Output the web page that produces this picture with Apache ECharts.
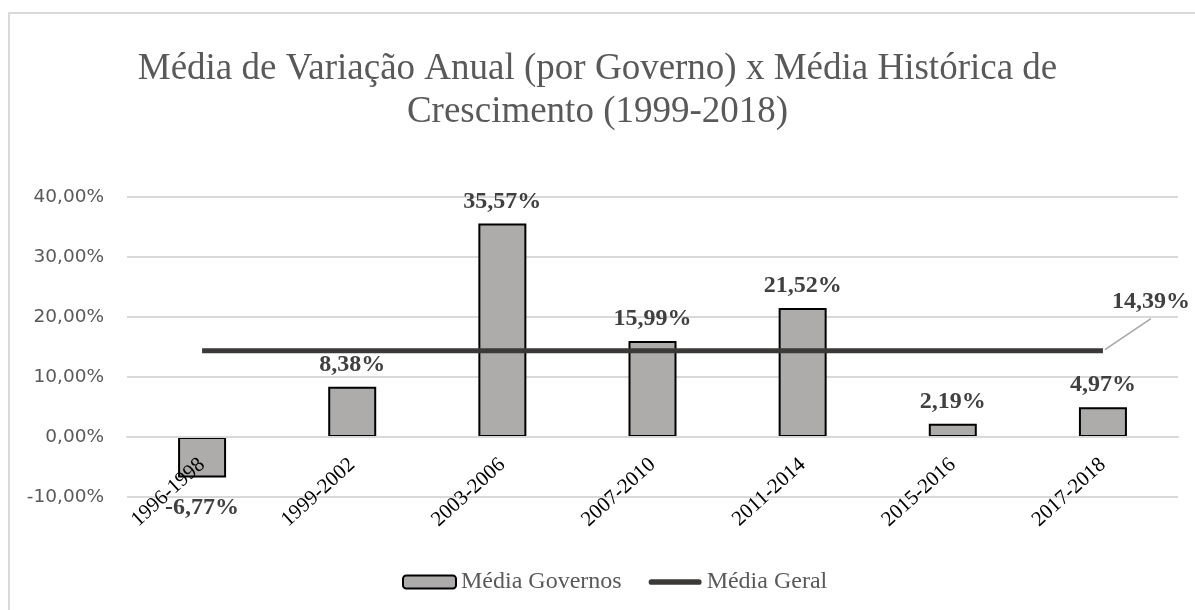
<!DOCTYPE html>
<html><head><meta charset="utf-8">
<script src="https://cdn.jsdelivr.net/npm/echarts@6/dist/echarts.min.js"></script>
<style>
html,body{margin:0;padding:0;background:#fff;}
#frame{position:absolute;left:8px;top:12px;width:1300px;height:700px;border:2px solid #d9d9d9;box-sizing:border-box;}
#c{position:absolute;left:0;top:0;width:1195px;height:610px;}
</style></head>
<body>
<div id="frame"></div>
<div id="c"></div>
<script>
const titleText = 'Média de Variação Anual (por Governo) x Média Histórica de\nCrescimento (1999-2018)';
const categories = ['1996-1998','1999-2002','2003-2006','2007-2010','2011-2014','2015-2016','2017-2018'];
const mediaGovernos = [-6.77, 8.38, 35.57, 15.99, 21.52, 2.19, 4.97];
const mediaGeral = [14.39, 14.39, 14.39, 14.39, 14.39, 14.39, 14.39];
const yTicks = {min: -10, max: 40, interval: 10};

const fmt = v => v.toFixed(2).replace('.', ',') + '%';
const serif = '"Liberation Serif", "Times New Roman", serif';
const sans = '"DejaVu Sans", sans-serif';
const last = mediaGeral.length - 1;

const chart = echarts.init(document.getElementById('c'), null, {renderer: 'canvas'});
chart.setOption({
  backgroundColor: 'transparent',
  animation: false,
  title: {
    text: titleText, left: 'center', top: 43,
    textStyle: {fontFamily: serif, fontSize: 37, fontWeight: 'normal', color: '#595959', lineHeight: 43}
  },
  legend: {
    top: 565, left: 397, itemWidth: 53, itemHeight: 13, itemGap: 27,
    textStyle: {fontFamily: serif, fontSize: 24, color: '#595959'},
    data: [
      {name: 'Média Governos'},
      {name: 'Média Geral', icon: 'path://M3,0 L53,0 A3,3 0 0 1 53,6 L3,6 A3,3 0 0 1 3,0 Z'}
    ]
  },
  grid: {left: 127, right: 17, top: 197, bottom: 113, containLabel: false},
  xAxis: {
    type: 'category', data: categories, offset: -60, z: 5,
    axisLine: {show: true, onZero: false, lineStyle: {color: '#d9d9d9', width: 2}},
    axisTick: {show: false},
    axisLabel: {rotate: 42, margin: 25, fontFamily: serif, fontSize: 21, color: '#000', hideOverlap: false}
  },
  yAxis: {
    type: 'value', min: yTicks.min, max: yTicks.max, interval: yTicks.interval,
    axisLine: {show: false}, axisTick: {show: false},
    splitLine: {lineStyle: {color: '#d9d9d9', width: 2}},
    axisLabel: {margin: 23, fontFamily: sans, fontSize: 18.5, color: '#595959', formatter: v => fmt(v)}
  },
  series: [
    {
      name: 'Média Governos', type: 'bar', barWidth: 48,
      itemStyle: {color: '#aeabab', borderColor: '#000', borderWidth: 2},
      label: {
        show: true, fontFamily: serif, fontSize: 24, fontWeight: 'bold', color: '#404040', distance: 10,
        position: 'top', formatter: p => fmt(p.value)
      },
      data: mediaGovernos.map(v => v < 0 ? {value: v, label: {position: 'bottom', distance: 18}} : v)
    },
    {
      name: 'Média Geral', type: 'line',
      data: mediaGeral.map((v, i) => i === last ? {
          value: v,
          label: {show: true, position: 'top', distance: 5, formatter: p => fmt(p.value),
            fontFamily: serif, fontSize: 24, fontWeight: 'bold', color: '#404040'}
        } : v),
      symbol: 'circle', symbolSize: 0.1, showSymbol: true,
      itemStyle: {color: '#3b3838'},
      lineStyle: {color: '#3b3838', width: 5},
      labelLayout: p => p.dataIndex === last ? {dx: 48, dy: -32} : {},
      z: 6
    }
  ]
});
// leader line from the last "Média Geral" point to its moved label
const p = chart.convertToPixel({seriesIndex: 1}, [last, mediaGeral[last]]);
chart.setOption({
  graphic: [{
    type: 'line', silent: true, z: 10,
    shape: {x1: p[0] + 2, y1: p[1] - 1, x2: p[0] + 48, y2: p[1] - 32},
    style: {stroke: '#a6a6a6', lineWidth: 1.5}
  }]
});
</script>
</body></html>
